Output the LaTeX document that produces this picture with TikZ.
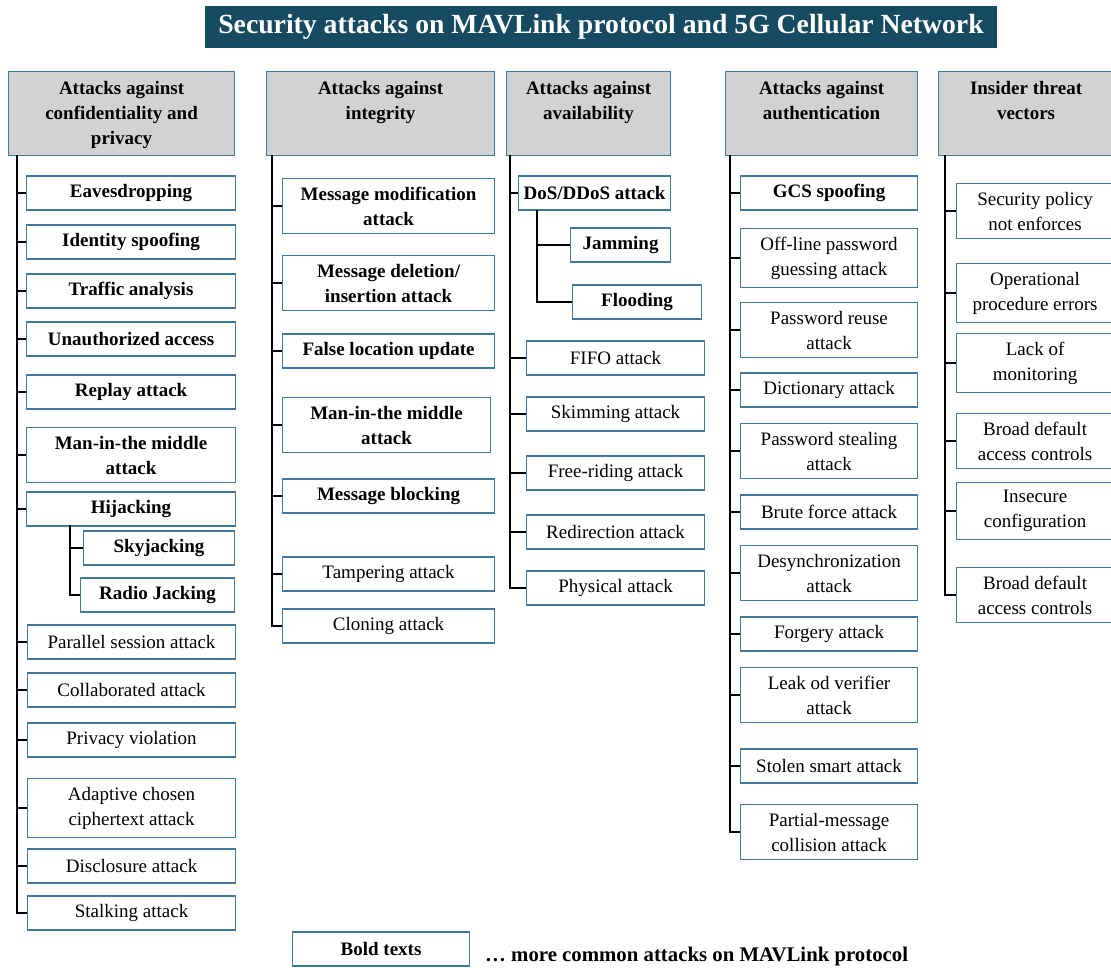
\documentclass[tikz,border=0pt]{standalone}
\usepackage{fontspec}
\setmainfont{Liberation Serif}
\usepackage{tikz}
\usetikzlibrary{positioning}
\definecolor{edge}{HTML}{41789B}
\definecolor{headgray}{HTML}{D2D2D2}
\definecolor{titlebg}{HTML}{154A63}
\tikzset{
  leaf/.style={rectangle, draw=edge, line width=1.1pt, fill=white, anchor=west,
               minimum width=#1pt, minimum height=34pt, inner xsep=3pt, inner ysep=8pt,
               align=center, font=\fontsize{19}{25}\selectfont},
  bleaf/.style={leaf=#1, font=\fontsize{19}{25}\selectfont\bfseries},
  headbox/.style={rectangle, draw=edge, line width=1.1pt, fill=headgray,
                  anchor=north west, minimum width=#1pt, minimum height=84pt},
  headtext/.style={font=\fontsize{19}{25}\selectfont\bfseries, align=center,
                   anchor=north, inner sep=0pt, yshift=-10pt},
  titlebox/.style={rectangle, fill=titlebg, text=white, minimum width=792pt,
                   minimum height=42pt, font=\fontsize{27.7}{30}\selectfont\bfseries},
  tree/.style={line width=1.6pt, draw=black},
}

\begin{document}
\begin{tikzpicture}[x=1pt,y=-1pt]
  \useasboundingbox (0,0) rectangle (1111,967);
  \node[titlebox] (title) at (601,27) {Security attacks on MAVLink protocol and 5G Cellular Network};

  % category headers
  \foreach \id/\l/\w/\txt in {hconf/8/226/{Attacks against\\confidentiality and\\privacy},
      hint/266/228/{Attacks against\\integrity}, havl/506/164/{Attacks against\\availability},
      haut/725/192/{Attacks against\\authentication}, hins/938/175/{Insider threat\\vectors}}
    {\node[headbox=\w] (\id) at (\l,71) {};
     \node[headtext] at (\id.north) {\txt};}

  % confidentiality and privacy
  \foreach \id/\y/\txt in {eav/193/Eavesdropping, idsp/242/Identity spoofing,
      traf/291/Traffic analysis, unau/339/Unauthorized access, repl/392/Replay attack,
      mitma/455/{Man-in-the middle\\attack}, hij/509/Hijacking}
    \node[bleaf=209] (\id) at (26,\y) {\txt};
  \node[bleaf=151] (sky) at (83,548) {Skyjacking};
  \node[bleaf=154] (radio) at (80,595) {Radio Jacking};
  \foreach \id/\y/\txt in {para/642/Parallel session attack, coll/690/Collaborated attack,
      priv/740/Privacy violation, adap/808/{Adaptive chosen\\ciphertext attack},
      disc/866/Disclosure attack, stal/913/Stalking attack}
    \node[leaf=208] (\id) at (27,\y) {\txt};
  \coordinate (t1) at (17,155);
  \coordinate (s1) at (70,525);
  \foreach \id in {eav,idsp,traf,unau,repl,mitma,hij,para,coll,priv,adap,disc,stal}
    \draw[tree] (t1) |- (\id.west);
  \foreach \id in {sky,radio}
    \draw[tree] (s1) |- (\id.west);

  % integrity
  \foreach \id/\y/\txt in {mmod/206/{Message modification\\attack},
      mdel/283/{Message deletion/\\insertion attack}, floc/351/False location update,
      mblk/496/Message blocking}
    \node[bleaf=212] (\id) at (282,\y) {\txt};
  \node[bleaf=208] (mitmb) at (282,425) {Man-in-the middle\\attack};
  \foreach \id/\y/\txt in {tamp/574/Tampering attack, clon/626/Cloning attack}
    \node[leaf=212] (\id) at (282,\y) {\txt};
  \coordinate (t2) at (272,155);
  \foreach \id in {mmod,mdel,floc,mitmb,mblk,tamp,clon}
    \draw[tree] (t2) |- (\id.west);

  % availability
  \node[bleaf=152] (dos) at (518,193) {DoS/DDoS attack};
  \node[bleaf=100] (jam) at (570,245) {Jamming};
  \node[bleaf=129] (flood) at (572,302) {Flooding};
  \foreach \id/\y/\txt in {fifo/358/FIFO attack, skim/414/Skimming attack,
      free/473/Free-riding attack, redir/532/Redirection attack, phys/588/Physical attack}
    \node[leaf=178] (\id) at (526,\y) {\txt};
  \coordinate (t3) at (510,155);
  \coordinate (s3) at (537,210);
  \foreach \id in {dos,fifo,skim,free,redir,phys}
    \draw[tree] (t3) |- (\id.west);
  \foreach \id in {jam,flood}
    \draw[tree] (s3) |- (\id.west);

  % authentication
  \node[bleaf=177] (gcs) at (740,193) {GCS spoofing};
  \foreach \id/\y/\txt in {offl/258/{Off-line password\\guessing attack},
      preu/330/{Password reuse\\attack}, dict/390/Dictionary attack,
      pste/451/{Password stealing\\attack}, brut/512/Brute force attack,
      desy/573/{Desynchronization\\attack}, forg/634/Forgery attack,
      leak/695/{Leak od verifier\\attack}, stol/766/Stolen smart attack,
      part/832/{Partial-message\\collision attack}}
    \node[leaf=177] (\id) at (740,\y) {\txt};
  \coordinate (t4) at (730,155);
  \foreach \id in {gcs,offl,preu,dict,pste,brut,desy,forg,leak,stol,part}
    \draw[tree] (t4) |- (\id.west);

  % insider threats
  \foreach \id/\y/\txt in {secp/211/{Security policy\\not enforces},
      oper/293/{Operational\\procedure errors}, lack/363/{Lack of\\monitoring},
      broa/441/{Broad default\\access controls}, insc/511/{Insecure\\configuration},
      brob/595/{Broad default\\access controls}}
    \node[leaf=157] (\id) at (956,\y) {\txt};
  \coordinate (t5) at (945,155);
  \foreach \id in {secp,oper,lack,broa,insc,brob}
    \draw[tree] (t5) |- (\id.west);

  % legend
  \node[bleaf=177] (legend) at (292,949) {Bold texts};
  \node[font=\fontsize{20.8}{25}\selectfont\bfseries, anchor=west, inner sep=0pt]
    (legtext) at (485,956) {\dots\ more common attacks on MAVLink protocol};
\end{tikzpicture}
\end{document}
